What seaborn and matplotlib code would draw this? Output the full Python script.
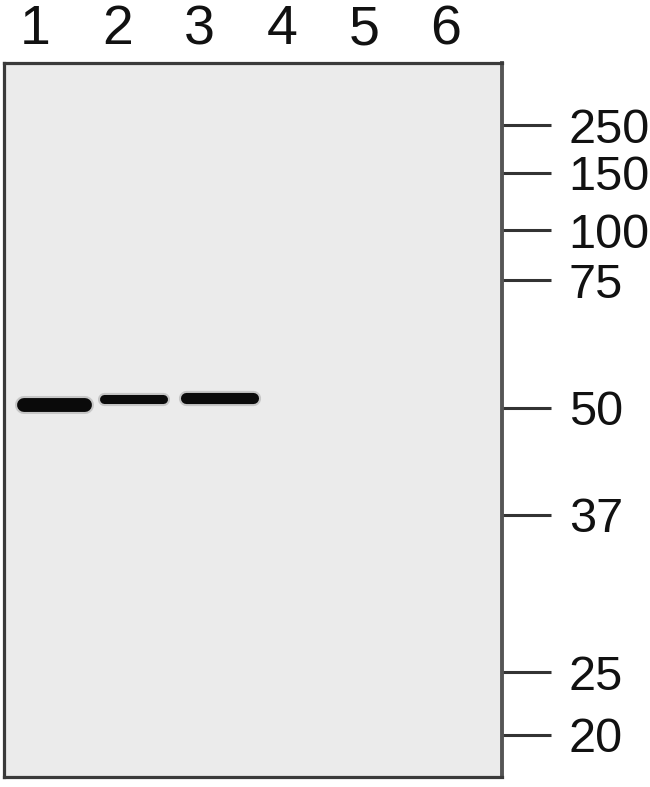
"""
Western blot lane panel with molecular weight markers
"""

import matplotlib.pyplot as plt
import seaborn as sns
import pandas as pd

# lane labels across the top
lanes = [1, 2, 3, 4, 5, 6]

# marker ladder (kDa) and relative migration down the gel (0 = top, 1 = bottom)
marker_kda = ["250", "150", "100", "75", "50", "37", "25", "20"]
marker_rf = [0.087, 0.154, 0.234, 0.304, 0.483, 0.633, 0.853, 0.941]

# detected bands: lane, migration, start/end offset from lane centre, thickness (pt)
band_lane = [1, 2, 3]
band_rf = [0.479, 0.471, 0.469]
band_start = [-0.14, -0.16, -0.17]
band_end = [0.61, 0.56, 0.65]
band_width = [10.0, 6.5, 8.0]

sns.set_theme(style="white")
plt.rcParams["font.family"] = ["Liberation Sans", "DejaVu Sans"]

fig = plt.figure(figsize=(6.5, 7.87), dpi=100)
ax = fig.add_axes([4 / 650, 1 - 777 / 787, 498 / 650, 714 / 787])
ax.set_facecolor("#ebebeb")

bands = pd.DataFrame({
    "lane": band_lane,
    "rf": band_rf,
    "x0": [l + s for l, s in zip(band_lane, band_start)],
    "x1": [l + e for l, e in zip(band_lane, band_end)],
    "lw": band_width,
})

for _, b in bands.iterrows():
    seg = pd.DataFrame({"x": [b["x0"], b["x1"]], "y": [b["rf"], b["rf"]]})
    # soft blur then dark core
    sns.lineplot(data=seg, x="x", y="y", ax=ax, color="#222222",
                 linewidth=b["lw"] + 3, alpha=0.18, solid_capstyle="round")
    sns.lineplot(data=seg, x="x", y="y", ax=ax, color="#0a0a0a",
                 linewidth=b["lw"], solid_capstyle="round")

ax.set_xlim(0.62, 6.68)
ax.set_ylim(1, 0)
ax.set_xlabel("")
ax.set_ylabel("")

# lane numbers on top
ax.xaxis.tick_top()
ax.set_xticks(lanes)
ax.set_xticklabels([str(l) for l in lanes], fontsize=40, color="#111111")
ax.tick_params(axis="x", length=0, pad=5)

# marker ladder on the right
ax.yaxis.tick_right()
ax.set_yticks(marker_rf)
ax.set_yticklabels(marker_kda, fontsize=35, color="#111111")
ax.tick_params(axis="y", right=True, left=False, length=35, width=2.2,
               color="#333333", pad=13)

for side, spine in ax.spines.items():
    spine.set_visible(True)
    spine.set_color("#3a3a3a")
    spine.set_linewidth(2.3)
ax.spines["right"].set_color("#555555")
ax.spines["right"].set_linewidth(2.8)

fig.savefig("out.png", dpi=100)
plt.close(fig)
